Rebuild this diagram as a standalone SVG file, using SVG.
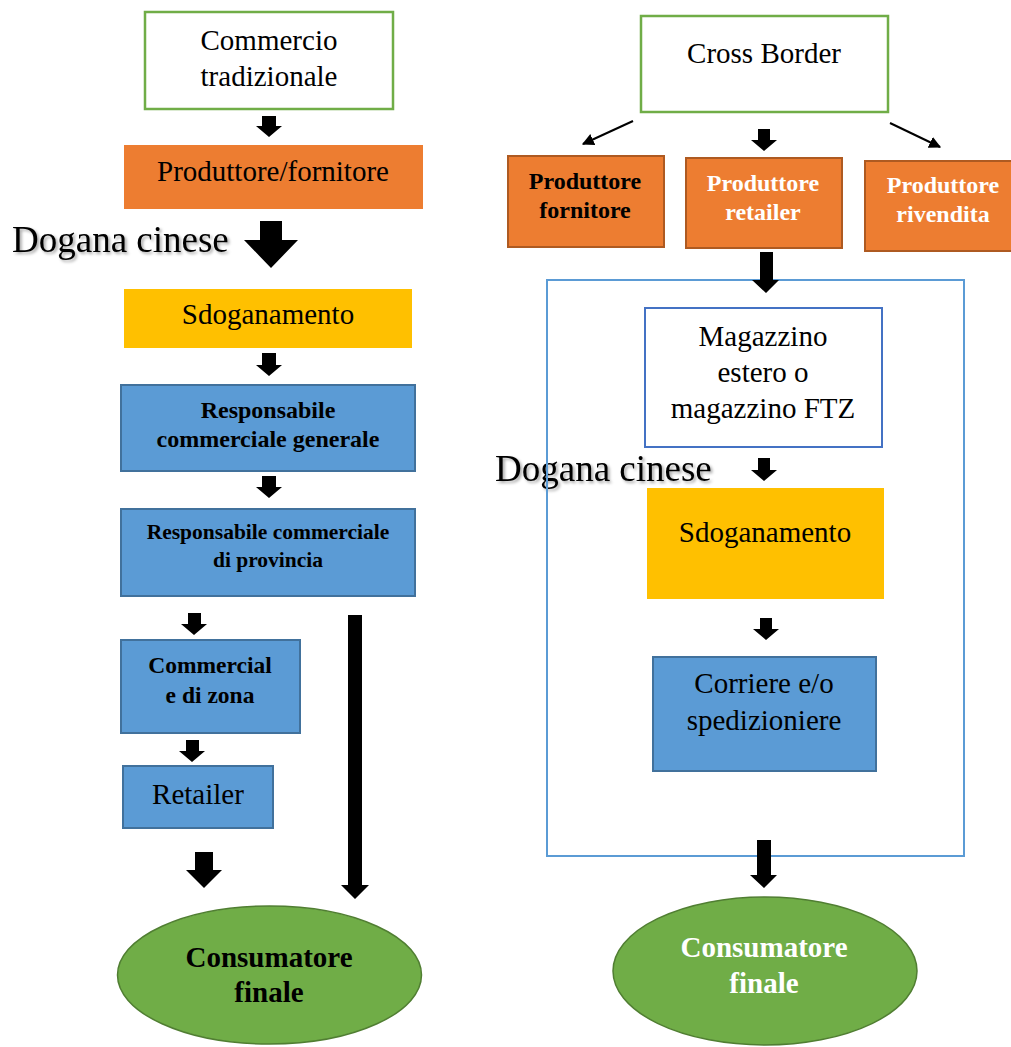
<svg xmlns="http://www.w3.org/2000/svg" width="1011" height="1047" viewBox="0 0 1011 1047">
<defs>
<style>
.t{font-family:"Liberation Serif","Times New Roman",serif;font-size:29px;fill:#000;text-anchor:middle}
.b{font-weight:bold}
.w{fill:#fff}
.s24{font-size:24px}
.s21{font-size:21.5px}
.s23{font-size:23.5px}
.green{fill:#fff;stroke:#70AD47;stroke-width:2.5}
.or{fill:#ED7D31}
.ors{fill:#ED7D31;stroke:#AE5A21;stroke-width:2}
.yel{fill:#FFC000}
.blue{fill:#5B9BD5;stroke:#41719C;stroke-width:2}
.ell{fill:#70AD47;stroke:#507E32;stroke-width:1.5}
.arr{fill:#000}
.thin{stroke:#000;stroke-width:2;fill:none}
.dog{font-family:"Liberation Serif","Times New Roman",serif;font-size:37px;fill:#000;filter:url(#sh)}
</style>
<filter id="sh" x="-10%" y="-30%" width="120%" height="160%">
<feDropShadow dx="2" dy="2" stdDeviation="1.5" flood-color="#000" flood-opacity="0.35"/>
</filter>
<marker id="ah" viewBox="0 0 10 10" refX="9" refY="5" markerWidth="6" markerHeight="6" orient="auto" markerUnits="strokeWidth">
<path d="M0,0 L10,5 L0,10 z" fill="#000"/>
</marker>
</defs>
<rect width="1011" height="1047" fill="#fff"/>

<!-- Left column -->
<g id="commercio-tradizionale">
<rect class="green" x="145" y="12" width="248" height="97"/>
<text class="t" x="269" y="50">Commercio</text>
<text class="t" x="269" y="86">tradizionale</text>
</g>
<g id="produttore-fornitore-left">
<rect class="or" x="124" y="145" width="299" height="64"/>
<text class="t" x="273" y="181">Produttore/fornitore</text>
</g>
<g id="dogana-left">
<text class="dog" x="12" y="252">Dogana cinese</text>
</g>
<g id="sdoganamento-left">
<rect class="yel" x="124" y="289" width="288" height="59"/>
<text class="t" x="268" y="324">Sdoganamento</text>
</g>
<g id="resp-generale">
<rect class="blue" x="121" y="385" width="294" height="86"/>
<text class="t b s24" x="268" y="418">Responsabile</text>
<text class="t b s24" x="268" y="447">commerciale generale</text>
</g>
<g id="resp-provincia">
<rect class="blue" x="121" y="509" width="294" height="87"/>
<text class="t b s21" x="268" y="539">Responsabile commerciale</text>
<text class="t b s21" x="268" y="567">di provincia</text>
</g>
<g id="commerciale-zona">
<rect class="blue" x="121" y="640" width="179" height="93"/>
<text class="t b s23" x="210" y="673">Commercial</text>
<text class="t b s23" x="210" y="703">e di zona</text>
</g>
<g id="retailer">
<rect class="blue" x="123" y="766" width="150" height="62"/>
<text class="t" x="198" y="804">Retailer</text>
</g>
<g id="consumatore-left">
<ellipse class="ell" cx="269.5" cy="975" rx="152" ry="69"/>
<text class="t b" x="269" y="967">Consumatore</text>
<text class="t b" x="269" y="1002">finale</text>
</g>

<!-- Right column -->
<g id="cross-border">
<rect class="green" x="641" y="16" width="247" height="96"/>
<text class="t" x="764" y="63">Cross Border</text>
</g>
<g id="produttore-fornitore-right">
<rect class="ors" x="508" y="156" width="156" height="91"/>
<text class="t b s24" x="585" y="189">Produttore</text>
<text class="t b s24" x="585" y="218">fornitore</text>
</g>
<g id="produttore-retailer">
<rect class="ors" x="686" y="158" width="156" height="90"/>
<text class="t b w s24" x="763" y="191">Produttore</text>
<text class="t b w s24" x="763" y="220">retailer</text>
</g>
<g id="produttore-rivendita">
<rect class="ors" x="865" y="161" width="150" height="90"/>
<text class="t b w s24" x="943" y="193">Produttore</text>
<text class="t b w s24" x="943" y="222">rivendita</text>
</g>
<g id="dogana-right">
<text class="dog" x="495" y="481">Dogana cinese</text>
</g>
<g id="container">
<rect x="547" y="280" width="417" height="576" fill="none" stroke="#5B9BD5" stroke-width="2"/>
</g>
<g id="magazzino">
<rect x="645" y="308" width="237" height="139" fill="#fff" stroke="#4472C4" stroke-width="2"/>
<text class="t" x="763" y="346">Magazzino</text>
<text class="t" x="763" y="382">estero o</text>
<text class="t" x="763" y="418">magazzino FTZ</text>
</g>
<g id="sdoganamento-right">
<rect class="yel" x="647" y="488" width="237" height="111"/>
<text class="t" x="765" y="542">Sdoganamento</text>
</g>
<g id="corriere">
<rect class="blue" x="653" y="657" width="223" height="114"/>
<text class="t" x="764" y="693">Corriere e/o</text>
<text class="t" x="764" y="730">spedizioniere</text>
</g>
<g id="consumatore-right">
<ellipse class="ell" cx="765" cy="971" rx="152" ry="74"/>
<text class="t b w" x="764" y="957">Consumatore</text>
<text class="t b w" x="764" y="993">finale</text>
</g>

<!-- Connectors -->
<g id="connectors">
<path class="arr" d="M262,116 H276 V126 H282 L269,137 L256,126 H262 Z"/>
<path class="arr" d="M260,221 H282 V240 H298 L271,268 L244,240 H260 Z"/>
<path class="arr" d="M262,353 H276 V365 H282 L269,376 L256,365 H262 Z"/>
<path class="arr" d="M262,476 H276 V487 H282 L269,498 L256,487 H262 Z"/>
<path class="arr" d="M188,613 H201 V624 H207 L194,635 L181,624 H188 Z"/>
<path class="arr" d="M186,740 H199 V751 H205 L192,762 L179,751 H186 Z"/>
<path class="arr" d="M195,852 H213 V870 H222 L204,888 L186,870 H195 Z"/>
<path class="arr" d="M348,615 H362 V885 H369 L355,899 L341,885 H348 Z"/>

<line class="thin" x1="633" y1="121" x2="583" y2="144" marker-end="url(#ah)"/>
<line class="thin" x1="890" y1="123" x2="940" y2="147" marker-end="url(#ah)"/>
<path class="arr" d="M758,129 H770 V140 H777 L764,151 L751,140 H758 Z"/>
<path class="arr" d="M760,252 H773 V280 H779 L766,293 L752,280 H760 Z"/>
<path class="arr" d="M758,458 H770 V470 H777 L764,481 L751,470 H758 Z"/>
<path class="arr" d="M760,618 H772 V629 H779 L766,640 L753,629 H760 Z"/>
<path class="arr" d="M757,840 H771 V875 H777 L764,888 L750,875 H757 Z"/>
</g>
</svg>
